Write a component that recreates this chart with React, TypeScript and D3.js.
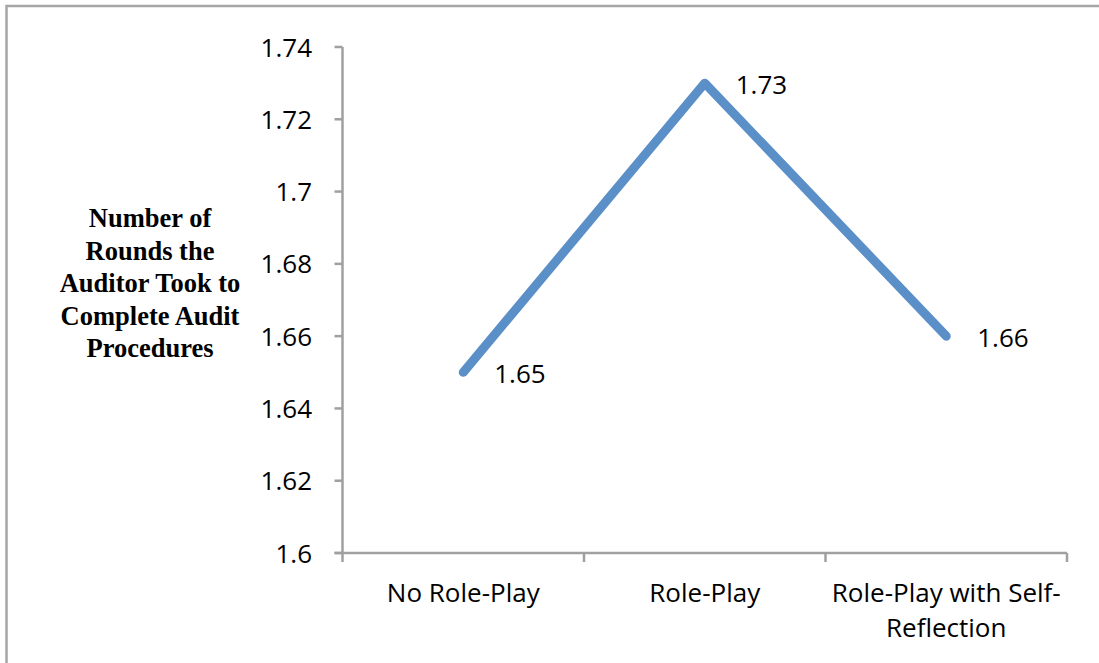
import React from "react";
import * as d3 from "d3";

const categories: string[][] = [["No Role-Play"], ["Role-Play"], ["Role-Play with Self-", "Reflection"]];
const values: number[] = [1.65, 1.73, 1.66];
const yTicks: number[] = [1.6, 1.62, 1.64, 1.66, 1.68, 1.7, 1.72, 1.74];
const yTitle: string[] = ["Number of", "Rounds the", "Auditor Took to", "Complete Audit", "Procedures"];

const W = 1099;
const H = 663;
const left = 342.5;
const right = 1067;
const top = 47;
const bottom = 553;
const axisColor = "#A0A0A0";
const lineColor = "#5B8FC8";
const font = "'Open Sans', 'Liberation Sans', sans-serif";

export default function App() {
  const x = d3.scaleBand<number>().domain(categories.map((_, i) => i)).range([left, right]).padding(0);
  const y = d3.scaleLinear().domain([1.6, 1.74]).range([bottom, top]);
  const cx = (i: number) => (x(i) as number) + x.bandwidth() / 2;
  const line = d3
    .line<number>()
    .x((_, i) => cx(i))
    .y((d) => y(d));
  const fmt = (v: number) => d3.format("")(+v.toFixed(2));
  const bandEdges = [...categories.map((_, i) => x(i) as number), right];

  return (
    <svg width={W} height={H} style={{ position: "absolute", left: 0, top: 0, display: "block", background: "#fff" }}>
      <rect x={6.5} y={6} width={1300} height={900} fill="none" stroke="#A6A6A6" strokeWidth={2.5} />
      {/* y axis */}
      <line x1={left} x2={left} y1={top} y2={bottom} stroke={axisColor} strokeWidth={2.5} />
      {yTicks.map((t) => (
        <g key={t}>
          <line x1={left - 8} x2={left} y1={y(t)} y2={y(t)} stroke={axisColor} strokeWidth={2.5} />
          <text x={312} y={y(t) + 9.5} textAnchor="end" fontFamily={font} fontSize={26} fill="#000">
            {fmt(t)}
          </text>
        </g>
      ))}
      {/* x axis */}
      <line x1={left - 8} x2={right} y1={bottom} y2={bottom} stroke={axisColor} strokeWidth={2.5} />
      {bandEdges.map((e, i) => (
        <line key={i} x1={e} x2={e} y1={bottom} y2={bottom + 9} stroke={axisColor} strokeWidth={2.5} />
      ))}
      {categories.map((lines, i) => (
        <text key={i} textAnchor="middle" fontFamily={font} fontSize={26} fill="#000">
          {lines.map((l, j) => (
            <tspan key={j} x={cx(i)} y={602 + j * 35}>
              {l}
            </tspan>
          ))}
        </text>
      ))}
      {/* y title */}
      <text textAnchor="middle" fontFamily="'Liberation Serif', 'Times New Roman', serif" fontWeight="bold" fontSize={26.5} fill="#000">
        {yTitle.map((l, j) => (
          <tspan key={j} x={150} y={227 + j * 32.5}>
            {l}
          </tspan>
        ))}
      </text>
      {/* line */}
      <path d={line(values) || ""} fill="none" stroke={lineColor} strokeWidth={9} strokeLinecap="round" strokeLinejoin="round" />
      {values.map((v, i) => (
        <text key={i} x={cx(i) + 31} y={y(v) + 11} fontFamily={font} fontSize={26} fill="#000">
          {fmt(v)}
        </text>
      ))}
    </svg>
  );
}
